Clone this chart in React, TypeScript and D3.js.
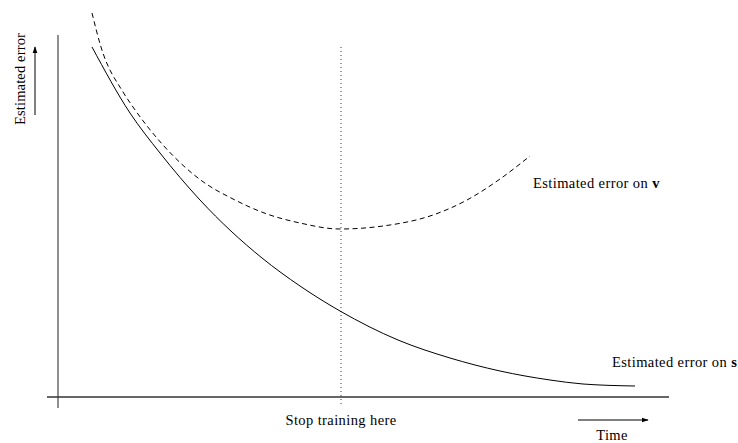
import React from 'react'
import * as d3 from 'd3'

// time (arbitrary units) vs estimated error (arbitrary units)
const trainTime = [34, 72, 102, 142, 204, 242, 282, 340, 392, 442, 492, 525, 577]
const trainError = [350, 284, 244, 197, 139, 111, 86, 57, 39, 26, 17, 13, 11]

const validTime = [34, 43, 65, 75, 105, 144, 175, 209, 242, 282, 325, 375, 409, 442, 472]
const validError = [384, 350, 305, 290, 252, 216, 198, 183, 174, 168, 171, 182, 197, 218, 241]

const stopTime = 283

const W = 738
const H = 443

export default function App() {
  const x = d3.scaleLinear().domain([0, 611]).range([58, 669])
  const y = d3.scaleLinear().domain([0, 360]).range([397, 37])

  const line = d3.line<[number, number]>()
    .x(d => x(d[0]))
    .y(d => y(d[1]))
    .curve(d3.curveMonotoneX)

  const train = trainTime.map((t, i) => [t, trainError[i]] as [number, number])
  const valid = validTime.map((t, i) => [t, validError[i]] as [number, number])

  const font = '"Liberation Serif", "Times New Roman", serif'
  const txt = { fontFamily: font, fontSize: 14.5, letterSpacing: 0.4 }

  return (
    <svg width={W} height={H} style={{ position: 'absolute', left: 0, top: 0 }}>
      <defs>
        <marker id="arr" viewBox="0 0 10 10" refX="9" refY="5" markerWidth="7" markerHeight="7" orient="auto">
          <path d="M0,1.5 L10,5 L0,8.5 Z" fill="#000" />
        </marker>
      </defs>

      {/* axes */}
      <line x1={x(0)} x2={x(0)} y1={35} y2={408} stroke="#555" strokeWidth={1.3} />
      <line x1={47} x2={669} y1={y(0)} y2={y(0)} stroke="#333" strokeWidth={1.3} />

      {/* stop line */}
      <line x1={x(stopTime)} x2={x(stopTime)} y1={47} y2={407} stroke="#333" strokeWidth={1} strokeDasharray="1,3" />

      <path d={line(valid) || ''} fill="none" stroke="#000" strokeWidth={1} strokeDasharray="5,3.5" />
      <path d={line(train) || ''} fill="none" stroke="#000" strokeWidth={1} />

      {/* direction arrows */}
      <line x1={35} x2={35} y1={115} y2={47} stroke="#000" strokeWidth={1} markerEnd="url(#arr)" />
      <line x1={578} x2={648} y1={420} y2={420} stroke="#000" strokeWidth={1} markerEnd="url(#arr)" />

      <text transform="translate(25,79) rotate(-90)" textAnchor="middle" {...txt} letterSpacing={0.15}>Estimated error</text>
      <text x={612} y={440} textAnchor="middle" {...txt}>Time</text>
      <text x={x(stopTime)} y={425} textAnchor="middle" {...txt}>Stop training here</text>
      <text x={533} y={188} {...txt}>Estimated error on <tspan fontWeight="bold">v</tspan></text>
      <text x={612} y={367} {...txt}>Estimated error on <tspan fontWeight="bold">s</tspan></text>
    </svg>
  )
}
